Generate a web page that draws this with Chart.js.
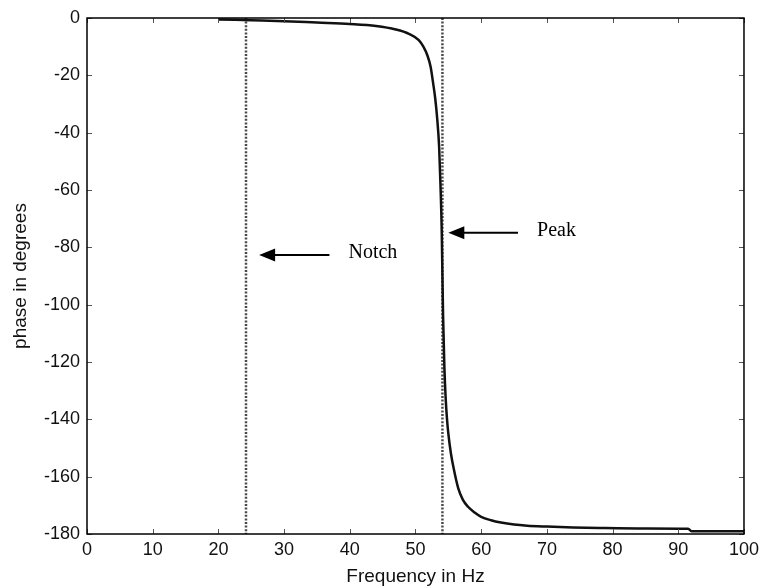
<!DOCTYPE html>
<html>
<head>
<meta charset="utf-8">
<script src="https://cdn.jsdelivr.net/npm/chart.js@4/dist/chart.umd.min.js"></script>
<style>
  html, body { margin: 0; padding: 0; background: #fff; }
  #wrap { width: 764px; height: 588px; }
</style>
</head>
<body>
<div id="wrap"><canvas id="faseChart" width="764" height="588"></canvas></div>
<script>
// Datos (frecuencia en Hz, fase en grados)
const freqHz = [20, 25, 30, 35, 40, 44, 47, 49, 50.5, 51.2, 51.8, 52.3, 52.7, 53.0, 53.3, 53.6, 53.8, 54.0, 54.1, 54.2, 54.4, 54.6, 54.8, 55.0, 55.4, 55.8, 56.5, 57.2, 58, 59, 60, 61.5, 63, 65, 67, 70, 74, 78, 85, 91.5, 92, 100];
const phaseDeg = [-0.5, -0.8, -1.1, -1.6, -2.1, -2.8, -4.0, -5.5, -7.7, -10, -13, -17, -23, -28, -35, -45, -58, -75, -90, -104, -122, -133, -140, -145, -152, -157, -164, -168, -170.5, -172.5, -174, -175.2, -176, -176.7, -177.1, -177.4, -177.7, -177.9, -178.1, -178.2, -179, -179];

// Lineas punteadas verticales (notch y pico)
const markerHz = [24.2, 54.1];

// Anotaciones con flecha
const notaTexto = ['Notch', 'Peak'];
const notaPunta = [26.2, 55.0];
const notaCola = [36.9, 65.6];
const notaY = [-82.7, -74.9];
const notaTextoX = [39.8, 68.5];

const xTicks = [0, 10, 20, 30, 40, 50, 60, 70, 80, 90, 100];
const yTicks = [0, -20, -40, -60, -80, -100, -120, -140, -160, -180];

// Marco, marcas internas y flechas
const marcoPlugin = {
    id: 'marco',
    afterDatasetsDraw(chart) {
        const { ctx, chartArea: a, scales: { x, y } } = chart;
        ctx.save();
        // marcas hacia dentro en los cuatro lados
        ctx.strokeStyle = '#555';
        ctx.lineWidth = 1;
        const len = 5;
        ctx.beginPath();
        xTicks.forEach(v => {
            const px = Math.round(x.getPixelForValue(v)) + 0.5;
            ctx.moveTo(px, a.bottom); ctx.lineTo(px, a.bottom - len);
            ctx.moveTo(px, a.top); ctx.lineTo(px, a.top + len);
        });
        yTicks.forEach(v => {
            const py = Math.round(y.getPixelForValue(v)) + 0.5;
            ctx.moveTo(a.left, py); ctx.lineTo(a.left + len, py);
            ctx.moveTo(a.right, py); ctx.lineTo(a.right - len, py);
        });
        ctx.stroke();
        // caja
        ctx.strokeStyle = '#000';
        ctx.lineWidth = 1.5;
        ctx.strokeRect(a.left, a.top, a.right - a.left, a.bottom - a.top);
        // flechas y textos
        ctx.fillStyle = '#000';
        ctx.strokeStyle = '#000';
        ctx.lineWidth = 2;
        notaTexto.forEach((t, i) => {
            const tip = x.getPixelForValue(notaPunta[i]);
            const tail = x.getPixelForValue(notaCola[i]);
            const py = y.getPixelForValue(notaY[i]);
            ctx.beginPath();
            ctx.moveTo(tail, py);
            ctx.lineTo(tip + 12, py);
            ctx.stroke();
            ctx.beginPath();
            ctx.moveTo(tip, py);
            ctx.lineTo(tip + 16, py - 6.5);
            ctx.lineTo(tip + 16, py + 6.5);
            ctx.closePath();
            ctx.fill();
            ctx.font = '20px "Liberation Serif", "Times New Roman", serif';
            ctx.textAlign = 'left';
            ctx.textBaseline = 'middle';
            ctx.fillText(t, x.getPixelForValue(notaTextoX[i]), py - 2);
        });
        ctx.restore();
    }
};

function crearGraficoFase() {
    const ctx = document.getElementById('faseChart').getContext('2d');
    const datasets = [{
        label: 'phase',
        data: freqHz.map((f, i) => ({ x: f, y: phaseDeg[i] })),
        borderColor: '#111',
        borderWidth: 2.5,
        pointRadius: 0,
        cubicInterpolationMode: 'monotone',
        fill: false,
        order: 0
    }];
    markerHz.forEach(m => {
        datasets.push({
            label: 'marker',
            data: [{ x: m, y: 0 }, { x: m, y: -180 }],
            borderColor: '#4a4a4a',
            borderWidth: 2.5,
            borderDash: [2, 1.6],
            pointRadius: 0,
            fill: false,
            order: 1
        });
    });

    const fuenteTicks = { family: '"Liberation Sans", Arial, sans-serif', size: 18 };
    const fuenteTitulo = { family: '"Liberation Sans", Arial, sans-serif', size: 19 };

    window.faseChart = new Chart(ctx, {
        type: 'line',
        data: { datasets },
        options: {
            responsive: false,
            animation: false,
            layout: { padding: { left: 0, top: 18, right: 17, bottom: 0 } },
            plugins: {
                legend: { display: false },
                tooltip: { enabled: false }
            },
            scales: {
                x: {
                    type: 'linear',
                    min: 0,
                    max: 100,
                    afterFit: s => { s.height = 54; },
                    afterBuildTicks: s => { s.ticks = xTicks.map(v => ({ value: v })); },
                    grid: { display: false, drawTicks: false },
                    border: { display: false },
                    ticks: { color: '#111', font: fuenteTicks, padding: 5, maxRotation: 0 },
                    title: { display: true, text: 'Frequency in Hz', color: '#111', font: fuenteTitulo, padding: { top: 0, bottom: 0 } }
                },
                y: {
                    type: 'linear',
                    min: -180,
                    max: 0,
                    afterFit: s => { s.width = 87; },
                    afterBuildTicks: s => { s.ticks = yTicks.map(v => ({ value: v })); },
                    grid: { display: false, drawTicks: false },
                    border: { display: false },
                    ticks: { color: '#111', font: fuenteTicks, padding: 7 },
                    title: { display: true, text: 'phase in degrees', color: '#111', font: fuenteTitulo, padding: { top: 9, bottom: 0 } }
                }
            }
        },
        plugins: [marcoPlugin]
    });
}

document.addEventListener('DOMContentLoaded', crearGraficoFase);
</script>
</body>
</html>
